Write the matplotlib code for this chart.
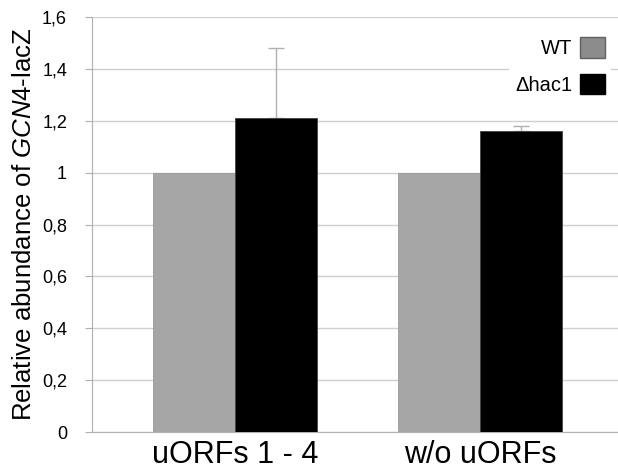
import numpy as np
import matplotlib
matplotlib.use('Agg')
import matplotlib.pyplot as plt
from matplotlib.patches import Patch

plt.rcParams['font.family'] = 'Liberation Sans'
plt.rcParams['mathtext.fontset'] = 'custom'
plt.rcParams['mathtext.rm'] = 'Liberation Sans'
plt.rcParams['mathtext.it'] = 'Liberation Sans:italic'

categories = ['uORFs 1 - 4', 'w/o uORFs']
wt = [1.0, 1.0]
hac1 = [1.21, 1.16]
hac1_err = [0.27, 0.02]
yticks = [0, 0.2, 0.4, 0.6, 0.8, 1.0, 1.2, 1.4, 1.6]
ytick_labels = ['0', '0,2', '0,4', '0,6', '0,8', '1', '1,2', '1,4', '1,6']

fig = plt.figure(figsize=(6.18, 4.75), dpi=100)
ax = fig.add_axes([0.149, 0.0905, 0.851, 0.8735])

x = np.arange(len(categories))
w = 0.335
ax.bar(x - w/2, wt, w, color='#a6a6a6', edgecolor='#999999', linewidth=0.6, zorder=3)
ax.bar(x + w/2, hac1, w, color='black', edgecolor='#444444', linewidth=0.6, zorder=3)
ax.errorbar(x + w/2, hac1, yerr=[[0, 0], hac1_err], fmt='none', ecolor='#b0b0b0',
            elinewidth=1, capsize=6, capthick=1, zorder=2)

ax.set_xlim(-0.584, 1.563)
ax.set_ylim(0, 1.6)
ax.set_yticks(yticks)
ax.set_yticklabels(ytick_labels, fontsize=13)
ax.set_xticks(x)
ax.set_xticklabels(categories, fontsize=22)
ax.tick_params(axis='x', length=0, pad=6)
ax.tick_params(axis='y', length=5, color='#b0b0b0', pad=13)
ax.grid(axis='y', color='#d0d0d0', linewidth=1, zorder=0)
for s in ['top', 'right']:
    ax.spines[s].set_visible(False)
for s in ['left', 'bottom']:
    ax.spines[s].set_color('#b0b0b0')
ax.set_ylabel(r'Relative abundance of $\it{GCN4}$-lacZ', fontsize=18.5, labelpad=4)

handles = [Patch(facecolor='#8c8c8c', edgecolor='#606060', label='WT'),
           Patch(facecolor='black', edgecolor='black', label='Δhac1')]
leg = ax.legend(handles=handles, loc='upper right', bbox_to_anchor=(1.005, 0.99),
                markerfirst=False, fontsize=14.5, frameon=True, edgecolor='none',
                facecolor='white', framealpha=1, handlelength=1.2, handleheight=1.2,
                handletextpad=0.4, labelspacing=0.75, borderpad=0.3, fancybox=False)
leg.set_zorder(5)

fig.savefig('out.png', dpi=100)
